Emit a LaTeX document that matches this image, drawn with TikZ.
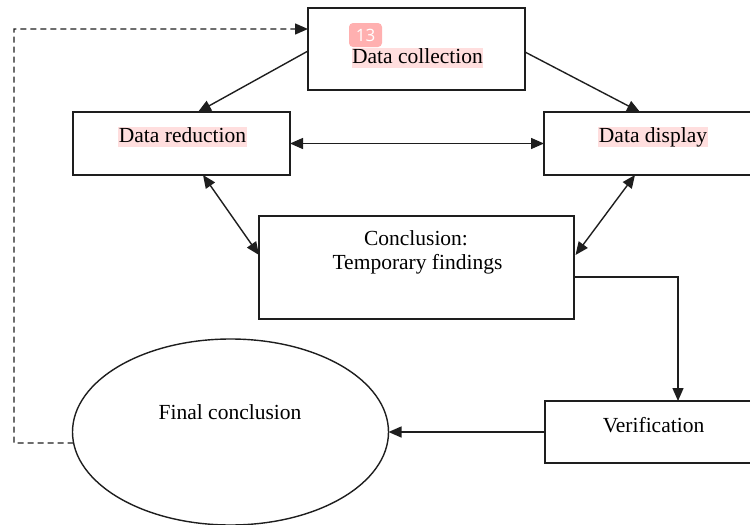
\documentclass[tikz,border=0pt]{standalone}
\usepackage{fontspec}
\setmainfont{Liberation Serif}
\newfontfamily\badgefont{Open Sans}
\usetikzlibrary{arrows.meta,shapes.geometric}
\definecolor{hl}{RGB}{255,222,222}
\definecolor{badge}{RGB}{255,176,176}
\definecolor{ln}{RGB}{30,30,30}
\begin{document}
\begin{tikzpicture}[x=1pt,y=-1pt,
  every node/.style={font=\fontsize{21.5}{24}\selectfont, inner sep=0pt, outer sep=0pt},
  box/.style={draw=ln, line width=1.4pt, rectangle},
  lbl/.style={anchor=base, text=black},
  hilite/.style={lbl, fill=hl, text height=15pt, text depth=5pt, inner xsep=0.5pt},
  tip/.style={Triangle[length=13pt,width=11pt]},
  conn/.style={draw=ln, line width=1.4pt, -{Triangle[length=13pt,width=11pt]}},
  dconn/.style={draw=ln, line width=1.4pt, {Triangle[length=13pt,width=11pt]}-{Triangle[length=13pt,width=11pt]}},
  dashconn/.style={conn, dash pattern=on 6pt off 4pt}
]
\useasboundingbox (0,0) rectangle (750,525);
\clip (0,0) rectangle (750,525);

% shapes
\node[box, minimum width=217pt, minimum height=82pt] (dc) at (416.5,49) {};
\node[box, minimum width=217pt, minimum height=63pt] (dr) at (181.5,143.5) {};
\node[box, minimum width=226pt, minimum height=63pt] (dd) at (657,143.5) {};
\node[box, minimum width=315pt, minimum height=103pt] (cc) at (416.5,267.5) {};
\node[box, minimum width=225pt, minimum height=62pt] (vf) at (657.5,432) {};
\node[draw=ln, line width=1.4pt, ellipse, minimum width=316pt, minimum height=186pt] (el) at (230.5,432) {};

% texts
\node[hilite] (tdc) at (417.5,63) {Data collection};
\node[hilite] (tdr) at (182.5,142) {Data reduction};
\node[hilite] (tdd) at (653,142) {Data display};
\node[lbl] (tc1) at (416,245) {Conclusion:};
\node[lbl] (tc2) at (417.5,269) {Temporary findings};
\node[lbl] (tfc) at (230,419) {Final conclusion};
\node[lbl] (tvf) at (653.5,432) {Verification};

% badge
\node[fill=badge, rounded corners=4pt, minimum width=33pt, minimum height=24pt,
      text=white, font=\fontsize{17}{19}\badgefont] (badge) at (365.5,35) {13};

% connectors
\draw[conn] ([yshift=-2pt]dc.west) -- ([xshift=16.5pt]dr.north);
\draw[conn] ([yshift=-3pt]dc.east) -- ([xshift=-17pt]dd.north);
\draw[dconn] (dr.east) -- (dd.west);
\draw[dconn] ([xshift=21.5pt]dr.south) -- ([yshift=12.5pt]cc.west);
\draw[dconn] ([xshift=-22pt]dd.south) -- ([xshift=1.5pt,yshift=12.5pt]cc.east);
\draw[conn] ([yshift=-9.5pt]cc.east) -| ([xshift=20.5pt]vf.north);
\draw[conn] (vf.west) -- (el.east);
\coordinate (lp) at (14,443);
\draw[dashconn] (el.184) -- (lp) |- ([yshift=20pt]dc.west);
\end{tikzpicture}
\end{document}
